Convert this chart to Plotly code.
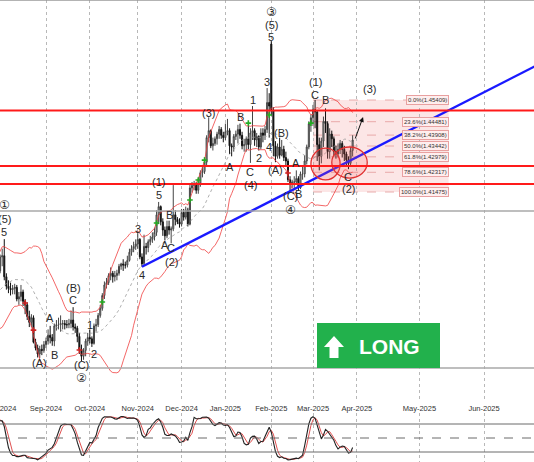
import pandas as pd
import numpy as np
import plotly.graph_objects as go

# ---------------- data (USDCAD daily) ----------------
holidays = ["2024-12-25", "2025-01-01"]

open_ = [
    1.3675,1.3735,1.3680,1.3640,1.3630,1.3640,1.3630,1.3625,1.3620,1.3640,1.3640,1.3680,1.3690,1.3680,1.3710,1.3730,1.3745,1.3765,1.3785,1.3815,1.3825,1.3850,1.3840,
    1.3810,1.3870,1.3875,1.3785,1.3745,1.3735,1.3730,1.3735,1.3740,1.3690,1.3700,1.3720,1.3680,1.3665,1.3615,1.3590,1.3610,1.3505,1.3480,1.3455,1.3475,1.3470,
    1.3495,1.3510,1.3535,1.3525,1.3510,1.3575,1.3580,1.3580,1.3585,1.3585,1.3580,1.3580,1.3585,1.3600,1.3570,1.3565,1.3530,1.3475,1.3445,1.3470,1.3510,
    1.3525,1.3520,1.3500,1.3575,1.3580,1.3620,1.3650,1.3705,1.3750,1.3760,1.3790,1.3800,1.3785,1.3790,1.3800,1.3830,1.3840,1.3835,1.3835,1.3855,1.3890,1.3905,1.3915,
    1.3925,1.3945,1.3870,1.3840,1.3915,1.3910,1.3935,1.3945,1.3955,1.3975,1.4050,1.4085,1.4020,1.3985,1.3960,1.4000,1.3985,1.3990,1.4050,1.4030,1.4020,
    1.4010,1.4060,1.4040,1.4070,1.4010,1.4165,1.4175,1.4180,1.4155,1.4185,1.4230,1.4235,1.4275,1.4380,1.4410,1.4345,1.4355,1.4375,1.4395,1.4415,1.4390,
    1.4380,1.4405,1.4410,1.4345,1.4340,1.4385,1.4395,1.4415,1.4390,1.4345,1.4350,1.4375,1.4350,1.4400,1.4410,1.4370,1.4385,1.4340,1.4400,1.4390,1.4415,1.4530,
    1.4780,1.4495,1.4345,1.4300,1.4340,1.4305,1.4330,1.4295,1.4280,1.4200,1.4185,1.4190,1.4190,1.4205,1.4165,1.4225,1.4225,1.4280,1.4340,1.4440,
    1.4465,1.4500,1.4490,1.4350,1.4300,1.4365,1.4450,1.4440,1.4320,1.4395,1.4375,1.4320,1.4310,1.4330,1.4355,1.4330,1.4310,1.4285,1.4270,1.4325,
]
high = [
    1.3755,1.3740,1.3690,1.3645,1.3660,1.3660,1.3645,1.3640,1.3650,1.3655,1.3690,1.3700,1.3700,1.3720,1.3740,1.3755,1.3775,1.3795,1.3830,1.3840,1.3860,1.3870,1.3870,
    1.3880,1.3905,1.3946,1.3800,1.3770,1.3760,1.3750,1.3755,1.3750,1.3720,1.3750,1.3730,1.3690,1.3675,1.3640,1.3625,1.3620,1.3520,1.3495,1.3490,1.3495,1.3510,
    1.3525,1.3560,1.3575,1.3540,1.3585,1.3600,1.3610,1.3620,1.3600,1.3600,1.3600,1.3605,1.3640,1.3655,1.3585,1.3575,1.3545,1.3495,1.3480,1.3520,1.3545,
    1.3560,1.3530,1.3585,1.3605,1.3630,1.3665,1.3715,1.3765,1.3780,1.3800,1.3825,1.3810,1.3810,1.3815,1.3840,1.3845,1.3860,1.3850,1.3875,1.3905,1.3920,1.3935,1.3945,
    1.3980,1.3950,1.3885,1.3965,1.3930,1.3945,1.3960,1.3975,1.3995,1.4070,1.4105,1.4090,1.4035,1.4000,1.4025,1.4025,1.4000,1.4177,1.4070,1.4040,1.4035,
    1.4075,1.4075,1.4085,1.4080,1.4180,1.4190,1.4195,1.4190,1.4200,1.4240,1.4255,1.4295,1.4390,1.4467,1.4415,1.4380,1.4385,1.4405,1.4430,1.4425,1.4405,
    1.4440,1.4460,1.4420,1.4355,1.4395,1.4410,1.4435,1.4440,1.4405,1.4375,1.4385,1.4430,1.4420,1.4515,1.4420,1.4400,1.4390,1.4420,1.4420,1.4430,1.4592,1.4570,
    1.4793,1.4510,1.4365,1.4355,1.4380,1.4370,1.4345,1.4320,1.4290,1.4215,1.4200,1.4215,1.4240,1.4215,1.4235,1.4260,1.4305,1.4350,1.4450,1.4480,
    1.4520,1.4541,1.4495,1.4380,1.4380,1.4470,1.4505,1.4450,1.4420,1.4410,1.4385,1.4345,1.4355,1.4370,1.4365,1.4345,1.4320,1.4300,1.4340,1.4390,
]
low = [
    1.3665,1.3665,1.3615,1.3600,1.3590,1.3615,1.3605,1.3600,1.3595,1.3615,1.3630,1.3660,1.3655,1.3670,1.3700,1.3720,1.3735,1.3750,1.3770,1.3800,1.3815,1.3830,1.3790,
    1.3800,1.3830,1.3770,1.3730,1.3715,1.3705,1.3710,1.3710,1.3680,1.3665,1.3680,1.3660,1.3625,1.3600,1.3570,1.3570,1.3500,1.3470,1.3440,1.3438,1.3450,1.3460,
    1.3480,1.3495,1.3500,1.3490,1.3488,1.3555,1.3560,1.3550,1.3560,1.3560,1.3565,1.3565,1.3565,1.3555,1.3545,1.3505,1.3455,1.3425,1.3430,1.3445,1.3490,
    1.3500,1.3485,1.3495,1.3550,1.3570,1.3610,1.3640,1.3690,1.3735,1.3750,1.3770,1.3760,1.3765,1.3770,1.3790,1.3815,1.3810,1.3820,1.3825,1.3850,1.3875,1.3890,1.3900,
    1.3905,1.3860,1.3828,1.3835,1.3880,1.3890,1.3920,1.3930,1.3940,1.3960,1.4010,1.4005,1.3960,1.3940,1.3950,1.3965,1.3928,1.3980,1.4005,1.4010,1.3995,
    1.4000,1.4025,1.4030,1.4000,1.4005,1.4145,1.4155,1.4140,1.4140,1.4170,1.4210,1.4225,1.4260,1.4360,1.4335,1.4325,1.4345,1.4350,1.4375,1.4375,1.4360,
    1.4370,1.4390,1.4310,1.4300,1.4320,1.4370,1.4355,1.4375,1.4330,1.4320,1.4320,1.4330,1.4272,1.4370,1.4345,1.4340,1.4325,1.4330,1.4360,1.4370,1.4400,1.4380,
    1.4475,1.4300,1.4275,1.4290,1.4290,1.4300,1.4280,1.4260,1.4190,1.4151,1.4165,1.4160,1.4180,1.4152,1.4160,1.4200,1.4210,1.4265,1.4330,1.4405,
    1.4430,1.4420,1.4280,1.4240,1.4270,1.4340,1.4400,1.4290,1.4290,1.4340,1.4300,1.4290,1.4295,1.4310,1.4295,1.4280,1.4260,1.4245,1.4260,1.4300,
]
close = [
    1.3735,1.3680,1.3640,1.3630,1.3640,1.3630,1.3625,1.3620,1.3640,1.3640,1.3680,1.3690,1.3680,1.3710,1.3730,1.3745,1.3765,1.3785,1.3815,1.3825,1.3850,1.3840,1.3810,
    1.3870,1.3875,1.3785,1.3745,1.3735,1.3730,1.3735,1.3740,1.3690,1.3700,1.3720,1.3680,1.3665,1.3615,1.3590,1.3610,1.3505,1.3480,1.3455,1.3475,1.3470,1.3495,
    1.3510,1.3535,1.3525,1.3510,1.3575,1.3580,1.3580,1.3585,1.3585,1.3580,1.3580,1.3585,1.3600,1.3570,1.3565,1.3530,1.3475,1.3445,1.3470,1.3510,1.3525,
    1.3520,1.3500,1.3575,1.3580,1.3620,1.3650,1.3705,1.3750,1.3760,1.3790,1.3800,1.3785,1.3790,1.3800,1.3830,1.3840,1.3835,1.3835,1.3855,1.3890,1.3905,1.3915,1.3925,
    1.3945,1.3870,1.3840,1.3915,1.3910,1.3935,1.3945,1.3955,1.3975,1.4050,1.4085,1.4020,1.3985,1.3960,1.4000,1.3985,1.3990,1.4050,1.4030,1.4020,1.4010,
    1.4060,1.4040,1.4070,1.4010,1.4165,1.4175,1.4180,1.4155,1.4185,1.4230,1.4235,1.4275,1.4380,1.4410,1.4345,1.4355,1.4375,1.4395,1.4415,1.4390,1.4380,
    1.4405,1.4410,1.4345,1.4340,1.4385,1.4395,1.4415,1.4390,1.4345,1.4350,1.4375,1.4350,1.4400,1.4410,1.4370,1.4385,1.4340,1.4400,1.4390,1.4415,1.4530,1.4515,
    1.4495,1.4345,1.4300,1.4340,1.4305,1.4330,1.4295,1.4280,1.4200,1.4185,1.4190,1.4190,1.4205,1.4165,1.4225,1.4225,1.4280,1.4340,1.4440,1.4465,
    1.4500,1.4490,1.4350,1.4300,1.4365,1.4450,1.4440,1.4320,1.4395,1.4375,1.4320,1.4310,1.4330,1.4355,1.4330,1.4310,1.4285,1.4270,1.4325,1.4370,
]

red_levels = [1.4496, 1.4259, 1.4182]
gray_levels = [1.4066, 1.3395]

fib_pct = ["0.0", "23.6", "38.2", "50.0", "61.8", "78.6", "100.0"]
fib_val = [1.45409, 1.44481, 1.43908, 1.43442, 1.42979, 1.42317, 1.41475]
fib_start, fib_end = "2025-03-03", "2025-05-15"

trend_anchor_dates = ["2024-11-05", "2025-02-14"]
trend_anchor_prices = [1.3828, 1.4151]

wave_text = ["①", "(5)", "5", "(A)", "A", "B", "(B)", "C", "(C)", "②", "1", "2",
             "3", "4", "(1)", "5", "A", "B", "C", "(2)", "(3)",
             "A", "B", "C", "(4)", "1", "2", "3", "4", "③", "(5)", "5",
             "(A)", "(B)", "(C)", "④", "A", "B", "C", "(1)", "B", "C", "(2)", "(3)"]
wave_date = ["2024-08-05", "2024-08-05", "2024-08-05", "2024-08-28", "2024-09-04", "2024-09-06",
             "2024-09-19", "2024-09-19", "2024-09-25", "2024-09-25", "2024-10-01", "2024-10-03",
             "2024-11-01", "2024-11-05", "2024-11-15", "2024-11-15", "2024-11-20", "2024-11-22",
             "2024-11-25", "2024-11-25", "2024-12-19",
             "2025-01-06", "2025-01-13", "2025-01-20", "2025-01-20", "2025-01-21", "2025-01-24",
             "2025-01-30", "2025-01-31", "2025-02-03", "2025-02-03", "2025-02-03",
             "2025-02-05", "2025-02-10", "2025-02-14", "2025-02-14", "2025-02-19", "2025-02-20",
             "2025-03-04", "2025-03-04", "2025-03-11", "2025-03-26", "2025-03-26", "2025-04-07"]
wave_price = [1.4092, 1.4032, 1.3977, 1.3416, 1.3609, 1.3450, 1.3737, 1.3686, 1.3408, 1.3352,
              1.3579, 1.3455, 1.3989, 1.3792, 1.4190, 1.4135, 1.3921, 1.4049, 1.3908, 1.3848,
              1.4485, 1.4254, 1.4468, 1.4233, 1.4177, 1.4541, 1.4293, 1.4618, 1.4340,
              1.4917, 1.4862, 1.4810, 1.4242, 1.4400, 1.4130, 1.4071, 1.4272, 1.4139,
              1.4562, 1.4618, 1.4541, 1.4212, 1.4160, 1.4588]

green_sig_dates = ["2024-10-09", "2024-11-14", "2024-12-06", "2024-12-12", "2024-12-17",
                   "2025-01-17", "2025-01-31", "2025-02-28"]
green_sig_prices = [1.3677, 1.4015, 1.4113, 1.4199, 1.4284, 1.4442, 1.4477, 1.4442]
red_sig_dates = ["2024-08-19", "2024-08-23", "2024-09-24", "2025-02-13"]
red_sig_prices = [1.3673, 1.3557, 1.3472, 1.4229]

circle_x = [("2025-02-28", "2025-03-20"), ("2025-03-14", "2025-04-06")]
circle_y = [(1.4199, 1.4335), (1.4207, 1.4340)]

arrow_from = ("2025-03-31", 1.4370)
arrow_to = ("2025-04-04", 1.4468)

# ---------------- axis positions ----------------
trade_days = [d for d in pd.bdate_range("2024-07-01", "2025-03-31")
              if d.strftime("%Y-%m-%d") not in holidays]
future_days = list(pd.date_range("2025-04-01", "2025-07-31", freq="D"))
axis_days = trade_days + future_days
pos = {d.strftime("%Y-%m-%d"): i for i, d in enumerate(axis_days)}

assert len(open_) == len(high) == len(low) == len(close), (len(open_), len(high), len(low), len(close))
n = len(close)
xb = list(range(n))

tick_pos, tick_text = [], []
prev = None
for i, d in enumerate(axis_days):
    key = (d.year, d.month)
    if key != prev:
        tick_pos.append(i)
        tick_text.append(d.strftime("%b-%Y"))
        prev = key

# indicators
c = pd.Series(close); h = pd.Series(high); l = pd.Series(low)
mid = c.rolling(20).mean()
sd = c.rolling(20).std(ddof=0)
bb_up, bb_lo = mid + 2 * sd, mid - 2 * sd
hh = h.rolling(14).max(); ll = l.rolling(14).min()
stoch_k = 100 * (c - ll).rolling(3).sum() / (hh - ll).rolling(3).sum()
stoch_d = stoch_k.rolling(3).mean()

# ---------------- layout geometry ----------------
W, H = 534, 462
px_per_bar = 2.086
x_first = 45 - 46 / px_per_bar
x_last = 45 + (W - 46) / px_per_bar
y_per_px = 0.0004276
main_bottom_px = 402
y_top = 1.45409 + 100 * y_per_px
y_bot = 1.45409 - (main_bottom_px - 100) * y_per_px

def pxx(x):
    return x / W

def pxy(y):
    return 1 - y / H

fig = go.Figure()

fig.add_trace(go.Candlestick(
    x=xb, open=open_, high=high, low=low, close=close,
    increasing=dict(line=dict(color="#444444", width=1), fillcolor="#c0c0c0"),
    decreasing=dict(line=dict(color="#111111", width=1), fillcolor="#111111"),
    whiskerwidth=0, showlegend=False, hoverinfo="skip"))

fig.add_trace(go.Scatter(x=xb, y=bb_up, mode="lines", line=dict(color="#f04040", width=0.8), hoverinfo="skip"))
fig.add_trace(go.Scatter(x=xb, y=bb_lo, mode="lines", line=dict(color="#f04040", width=0.8), hoverinfo="skip"))
fig.add_trace(go.Scatter(x=xb, y=mid, mode="lines", line=dict(color="#9a9a9a", width=0.8, dash="dot"), hoverinfo="skip"))

# trend line through two anchors, extended to the right edge
tx0, tx1 = pos[trend_anchor_dates[0]], pos[trend_anchor_dates[1]]
slope = (trend_anchor_prices[1] - trend_anchor_prices[0]) / (tx1 - tx0)
t_end = x_last + 2
fig.add_trace(go.Scatter(x=[tx0, t_end],
                         y=[trend_anchor_prices[0], trend_anchor_prices[0] + slope * (t_end - tx0)],
                         mode="lines", line=dict(color="#1a1aff", width=2.4), hoverinfo="skip"))

fig.add_trace(go.Scatter(x=[pos[d] for d in green_sig_dates], y=green_sig_prices, mode="markers",
                         marker=dict(symbol="cross-thin", size=4, line=dict(color="#22aa22", width=1.6)),
                         hoverinfo="skip"))
fig.add_trace(go.Scatter(x=[pos[d] for d in red_sig_dates], y=red_sig_prices, mode="markers",
                         marker=dict(symbol="cross-thin", size=4, line=dict(color="#cc2222", width=1.6)),
                         hoverinfo="skip"))

# stochastic
fig.add_trace(go.Scatter(x=xb, y=stoch_d, mode="lines", line=dict(color="#e05050", width=1),
                         xaxis="x2", yaxis="y2", hoverinfo="skip"))
fig.add_trace(go.Scatter(x=xb, y=stoch_k, mode="lines", line=dict(color="#222222", width=1.1),
                         xaxis="x2", yaxis="y2", hoverinfo="skip"))

shapes = []
# fib zone
fs, fe = pos[fib_start], pos[fib_end]
shapes.append(dict(type="rect", xref="x", yref="y", x0=fs, x1=fe, y0=min(fib_val), y1=max(fib_val),
                   fillcolor="rgba(240,130,130,0.20)", line=dict(width=0), layer="below"))
for v in fib_val:
    shapes.append(dict(type="line", xref="x", yref="y", x0=fs, x1=fe, y0=v, y1=v,
                       line=dict(color="#e39a9a", width=0.8, dash="dash"), layer="below"))
# circles
for (cx0, cx1), (cy0, cy1) in zip(circle_x, circle_y):
    shapes.append(dict(type="circle", xref="x", yref="y", x0=pos[cx0], x1=pos[cx1], y0=cy0, y1=cy1,
                       fillcolor="rgba(255,90,90,0.18)", line=dict(color="#e03030", width=1.3)))
# horizontal levels
for v in gray_levels:
    shapes.append(dict(type="line", xref="paper", yref="y", x0=0, x1=1, y0=v, y1=v,
                       line=dict(color="#a8a8a8", width=1.6)))
for v in red_levels:
    shapes.append(dict(type="line", xref="paper", yref="y", x0=0, x1=1, y0=v, y1=v,
                       line=dict(color="#ff1a1a", width=2)))
# top frame
shapes.append(dict(type="line", xref="paper", yref="paper", x0=0, x1=1, y0=1, y1=1,
                   line=dict(color="#9a9a9a", width=1.5)))
# stochastic levels
for v, dsh in [(80, "solid"), (50, "dash"), (20, "solid")]:
    shapes.append(dict(type="line", xref="paper", yref="y2", x0=0, x1=1, y0=v, y1=v,
                       line=dict(color="#6a6a6a", width=1, dash=dsh)))
# LONG badge
shapes.append(dict(type="rect", xref="paper", yref="paper", x0=pxx(317), x1=pxx(440),
                   y0=pxy(368), y1=pxy(323), fillcolor="#22b14c", line=dict(width=0)))
arrow_pts = [(334, 336), (344, 347), (338.5, 347), (338.5, 358), (329.5, 358), (329.5, 347), (324, 347)]
path = "M " + " L ".join(f"{pxx(a):.5f},{pxy(b):.5f}" for a, b in arrow_pts) + " Z"
shapes.append(dict(type="path", xref="paper", yref="paper", path=path, fillcolor="white",
                   line=dict(width=0)))

annotations = []
for t, d, p in zip(wave_text, wave_date, wave_price):
    circled = t in "①②③④"
    annotations.append(dict(x=pos[d], y=p, xref="x", yref="y", text=t, showarrow=False,
                            font=dict(family="DejaVu Sans" if circled else "Liberation Sans",
                                      size=12 if circled else 11, color="#2a2a2a"),
                            xanchor="center", yanchor="middle"))
for pc, v in zip(fib_pct, fib_val):
    annotations.append(dict(x=fe, y=v, xref="x", yref="y", text=f"{pc}%({v:.5f})", showarrow=False,
                            xanchor="right", yanchor="middle",
                            font=dict(family="Liberation Sans", size=6, color="#333333"),
                            bgcolor="rgba(255,238,238,0.95)", bordercolor="#e8a0a0",
                            borderwidth=1, borderpad=1))
annotations.append(dict(x=pos[arrow_to[0]], y=arrow_to[1], ax=pos[arrow_from[0]], ay=arrow_from[1],
                        xref="x", yref="y", axref="x", ayref="y", text="", showarrow=True,
                        arrowhead=2, arrowsize=1, arrowwidth=1, arrowcolor="#111111"))
annotations.append(dict(x=pxx(389), y=pxy(346), xref="paper", yref="paper", text="<b>LONG</b>",
                        showarrow=False, font=dict(family="Liberation Sans", size=21, color="white"),
                        xanchor="center", yanchor="middle"))

fig.update_layout(
    width=W, height=H, margin=dict(l=0, r=0, t=0, b=0, pad=0),
    paper_bgcolor="white", plot_bgcolor="white", showlegend=False,
    shapes=shapes, annotations=annotations,
    xaxis=dict(domain=[0, 1], range=[x_first, x_last], autorange=False, anchor="y", tickvals=tick_pos,
               showticklabels=False, ticks="", showgrid=True, gridcolor="#b8b8b8", gridwidth=1,
               griddash="dot", zeroline=False, automargin=False, rangeslider=dict(visible=False)),
    yaxis=dict(domain=[1 - main_bottom_px / H, 1], range=[y_bot, y_top], autorange=False,
               showticklabels=False, showgrid=False, zeroline=False, automargin=False),
    xaxis2=dict(domain=[0, 1], range=[x_first, x_last], autorange=False, anchor="y2", side="top",
                tickvals=tick_pos, ticktext=tick_text, ticks="", ticklabeloverflow="allow",
                tickfont=dict(family="Liberation Sans", size=7.5, color="#333333"), automargin=False,
                showgrid=True, gridcolor="#b8b8b8", gridwidth=1, griddash="dot", zeroline=False),
    yaxis2=dict(domain=[0, 1 - 413 / H], range=[-1.43, 103.57], autorange=False, showticklabels=False,
                showgrid=False, zeroline=False, automargin=False),
)

fig.write_html("out.html", config={"responsive": False, "displayModeBar": False},
               post_script="document.body.style.margin='0';document.body.style.padding='0';"
                           "document.body.style.overflow='hidden';")
